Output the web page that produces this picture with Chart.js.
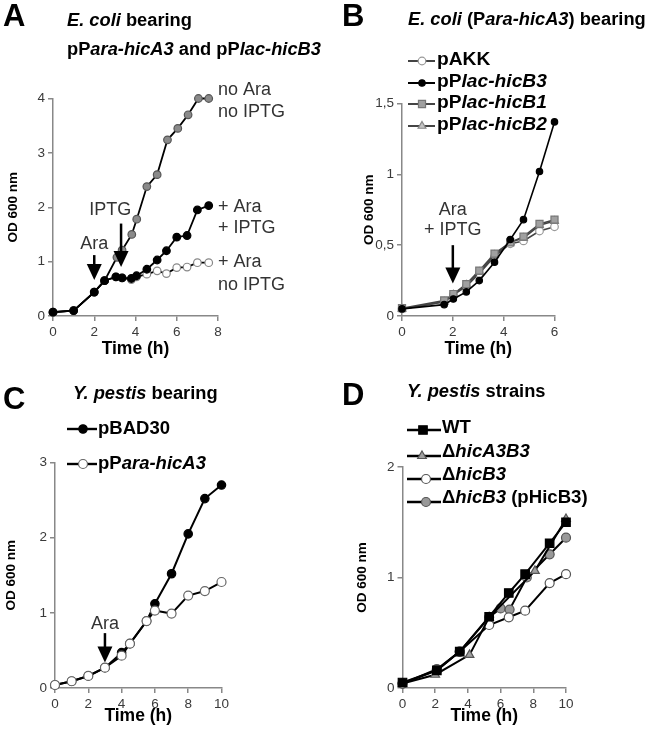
<!DOCTYPE html>
<html>
<head>
<meta charset="utf-8">
<script src="https://cdn.jsdelivr.net/npm/chart.js@4/dist/chart.umd.min.js"></script>
<style>
  body { margin: 0; background: #fff; }
  #fig { position: relative; width: 650px; height: 734px; }
  .panel { position: absolute; width: 325px; height: 367px; }
</style>
</head>
<body>
<div id="fig">
  <div class="panel" style="left:0;top:0"><canvas id="panelA" width="325" height="367"></canvas></div>
  <div class="panel" style="left:325px;top:0"><canvas id="panelB" width="325" height="367"></canvas></div>
  <div class="panel" style="left:0;top:367px"><canvas id="panelC" width="325" height="367"></canvas></div>
  <div class="panel" style="left:325px;top:367px"><canvas id="panelD" width="325" height="367"></canvas></div>
</div>
<script>
const FONT = '"Liberation Sans", Arial, sans-serif';
const W = 325, H = 367;

// (A) E. coli bearing pPara-hicA3 and pPlac-hicB3
const timeA = [0, 1, 2, 2.5, 3.05, 3.35, 3.8, 4.05, 4.55, 5.05, 5.5, 6.0, 6.5, 7.0, 7.55];
const timeA_noAra = [0, 1, 2, 2.5, 3.1, 3.35, 3.82, 4.06, 4.55, 5.05, 5.55, 6.05, 6.55, 7.05, 7.55];
const odA_noAra = [0.07, 0.1, 0.44, 0.65, 1.08, 1.21, 1.5, 1.78, 2.38, 2.6, 3.24, 3.45, 3.7, 4.0, 4.0];
const odA_araIptg = [0.07, 0.1, 0.44, 0.65, 0.72, 0.7, 0.69, 0.74, 0.86, 1.03, 1.2, 1.45, 1.48, 1.95, 2.03];
const odA_ara = [0.07, 0.1, 0.44, 0.65, 0.72, 0.7, 0.67, 0.72, 0.77, 0.83, 0.78, 0.89, 0.9, 0.98, 0.98];

// (B) E. coli (Para-hicA3) bearing
const timeB = [0, 1.66, 2.02, 2.53, 3.04, 3.64, 4.26, 4.78, 5.41, 6.0];
const odB_pAKK = [0.05, 0.1, 0.15, 0.21, 0.3, 0.42, 0.51, 0.53, 0.6, 0.63];
const odB_hicB3 = [0.05, 0.08, 0.12, 0.17, 0.25, 0.38, 0.54, 0.68, 1.02, 1.37];
const odB_hicB1 = [0.055, 0.11, 0.155, 0.225, 0.32, 0.44, 0.52, 0.56, 0.65, 0.68];
const odB_hicB2 = [0.05, 0.1, 0.15, 0.22, 0.31, 0.43, 0.52, 0.55, 0.64, 0.67];
const yTicksB = ['0', '0,5', '1', '1,5'];

// (C) Y. pestis bearing
const timeC = [0, 1, 2, 3, 4, 4.5, 5.5, 6, 7, 8, 9, 10];
const odC_pBAD30 = [0.04, 0.09, 0.16, 0.27, 0.47, 0.59, 0.89, 1.12, 1.52, 2.05, 2.52, 2.7];
const odC_hicA3 = [0.04, 0.09, 0.16, 0.27, 0.43, 0.59, 0.89, 1.03, 0.99, 1.23, 1.29, 1.41];

// (D) Y. pestis strains
const timeD_WT = [0, 2.1, 3.5, 5.3, 6.5, 7.5, 9, 10];
const odD_WT = [0.05, 0.16, 0.33, 0.645, 0.86, 1.03, 1.31, 1.5];
const timeD_A3B3 = [0, 2, 4.1, 5.3, 8.1, 10];
const odD_A3B3 = [0.04, 0.12, 0.3, 0.64, 1.06, 1.53];
const timeD_B3 = [0, 2.1, 3.5, 5.3, 6.5, 7.5, 9, 10];
const odD_B3 = [0.04, 0.16, 0.33, 0.57, 0.64, 0.7, 0.95, 1.03];
const timeD_pHicB3 = [0, 2.1, 3.5, 5.3, 6.0, 6.55, 7.6, 9, 10];
const odD_pHicB3 = [0.04, 0.17, 0.33, 0.64, 0.72, 0.71, 1.0, 1.21, 1.36];

function pts(t, v) { return t.map((x, i) => ({ x: x, y: v[i] })); }

function series(t, v, style) {
  return Object.assign({
    data: pts(t, v),
    showLine: true,
    tension: 0,
    clip: false,
    borderColor: '#000',
    borderWidth: 1.8,
    pointBorderWidth: 1.2
  }, style);
}

// rich text: segs = [[text, italic], ...], all bold
function rich(ctx, segs, x, y, size) {
  ctx.textBaseline = 'middle';
  ctx.textAlign = 'left';
  segs.forEach(s => {
    ctx.font = (s[1] ? 'italic ' : '') + 'bold ' + size + 'px ' + FONT;
    ctx.fillText(s[0], x, y);
    x += ctx.measureText(s[0]).width;
  });
}

function marker(ctx, ds, x, y) {
  const r = ds.pointRadius;
  ctx.beginPath();
  if (ds.pointStyle === 'rect') {
    const s = r * Math.SQRT1_2;
    ctx.rect(x - s, y - s, 2 * s, 2 * s);
  } else if (ds.pointStyle === 'triangle') {
    let a = 0;
    ctx.moveTo(x + Math.sin(a) * r, y - Math.cos(a) * r);
    a += 2 * Math.PI / 3;
    ctx.lineTo(x + Math.sin(a) * r, y - Math.cos(a) * r);
    a += 2 * Math.PI / 3;
    ctx.lineTo(x + Math.sin(a) * r, y - Math.cos(a) * r);
    ctx.closePath();
  } else {
    ctx.arc(x, y, r, 0, Math.PI * 2);
  }
  ctx.fillStyle = ds.pointBackgroundColor;
  ctx.fill();
  ctx.lineWidth = ds.pointBorderWidth;
  ctx.strokeStyle = ds.pointBorderColor;
  ctx.stroke();
}

const decor = {
  id: 'decor',
  afterDraw(chart, args, o) {
    const ctx = chart.ctx, xs = chart.scales.x, ys = chart.scales.y;
    ctx.save();
    ctx.fillStyle = '#000';
    ctx.font = 'bold 31px ' + FONT;
    ctx.textBaseline = 'alphabetic';
    ctx.textAlign = 'left';
    ctx.fillText(o.letter[0], o.letter[1], o.letter[2]);
    o.title.forEach(l => { ctx.fillStyle = '#000'; rich(ctx, l.segs, l.x, l.y, 18.3); });

    (o.legend || []).forEach(e => {
      const ds = chart.data.datasets[e.ds];
      ctx.strokeStyle = ds.borderColor;
      ctx.lineWidth = ds.borderWidth + 0.4;
      ctx.beginPath();
      ctx.moveTo(e.x0, e.ly);
      ctx.lineTo(e.x1, e.ly);
      ctx.stroke();
      marker(ctx, ds, e.mx, e.ly);
      ctx.fillStyle = '#000';
      rich(ctx, e.segs, e.tx, e.ty, e.size);
    });

    ctx.fillStyle = '#333';
    (o.notes || []).forEach(n => {
      ctx.font = '18px ' + FONT;
      ctx.textAlign = 'left';
      ctx.textBaseline = 'middle';
      ctx.fillText(n[0], n[1], n[2]);
    });

    (o.arrows || []).forEach(a => {
      const x = xs.getPixelForValue(a.x);
      const y0 = ys.getPixelForValue(a.y0), y1 = ys.getPixelForValue(a.y1);
      ctx.strokeStyle = '#000';
      ctx.fillStyle = '#000';
      ctx.lineWidth = 2.5;
      ctx.beginPath();
      ctx.moveTo(x, y0);
      ctx.lineTo(x, y1 - 12);
      ctx.stroke();
      ctx.beginPath();
      ctx.moveTo(x - 7.5, y1 - 16);
      ctx.lineTo(x + 7.5, y1 - 16);
      ctx.lineTo(x, y1);
      ctx.closePath();
      ctx.fill();
      ctx.fillStyle = '#333';
      ctx.font = '18px ' + FONT;
      ctx.textAlign = 'center';
      ctx.textBaseline = 'middle';
      a.label.forEach((t, i) => {
        ctx.fillText(t, xs.getPixelForValue(a.lx), ys.getPixelForValue(a.ly[i]));
      });
    });
    ctx.restore();
  }
};

function axes(p) {
  return {
    x: {
      type: 'linear', min: 0, max: p.xMax,
      ticks: { stepSize: 2, color: '#3a3a3a', font: { size: 13.5, family: FONT }, padding: 3, maxRotation: 0 },
      grid: { drawOnChartArea: false, tickLength: 5, color: '#888', lineWidth: 1.5 },
      border: { color: '#888', width: 1.5 },
      title: { display: true, text: 'Time (h)', color: '#000', font: { size: 17.5, weight: 'bold', family: FONT }, padding: { top: 0, bottom: 7 } },
      afterFit: s => { s.height = H - p.area.b; }
    },
    y: {
      type: 'linear', min: 0, max: p.yMax,
      ticks: {
        stepSize: p.yStep, color: '#3a3a3a', font: { size: 13.5, family: FONT }, padding: 3,
        callback: p.yLabels ? (v, i) => p.yLabels[i] : (v => v)
      },
      grid: { drawOnChartArea: false, tickLength: 5, color: '#888', lineWidth: 1.5 },
      border: { color: '#888', width: 1.5 },
      title: { display: true, text: 'OD 600 nm', color: '#000', font: { size: 13.5, weight: 'bold', family: FONT }, padding: { top: p.yTitleX - 8, bottom: 0 } },
      afterFit: s => { s.width = p.area.l; }
    }
  };
}

function makeChart(id, p, datasets, deco) {
  return new Chart(document.getElementById(id), {
    type: 'scatter',
    data: { datasets: datasets },
    options: {
      responsive: false,
      animation: false,
      layout: { padding: { left: 0, top: p.area.t, right: W - p.area.r, bottom: 0 } },
      plugins: { legend: { display: false }, tooltip: { enabled: false }, decor: deco },
      scales: axes(p)
    },
    plugins: [decor]
  });
}

// Panel A
makeChart('panelA', { area: { l: 53, r: 218, t: 98.5, b: 316 }, xMax: 8, yMax: 4, yStep: 1, yTitleX: 13 }, [
  series(timeA, odA_araIptg, { pointStyle: 'circle', pointRadius: 3.8, pointBackgroundColor: '#000', pointBorderColor: '#000' }),
  series(timeA_noAra, odA_noAra, { pointStyle: 'circle', pointRadius: 3.8, pointBackgroundColor: '#8a8a8a', pointBorderColor: '#555' }),
  series(timeA, odA_ara, { pointStyle: 'circle', pointRadius: 3.8, pointBackgroundColor: '#fff', pointBorderColor: '#888' })
], {
  letter: ['A', 3, 26],
  title: [
    { x: 67, y: 21, segs: [['E. coli', 1], [' bearing', 0]] },
    { x: 67, y: 50, segs: [['pP', 0], ['ara-hicA3', 1], [' and pP', 0], ['lac-hicB3', 1]] }
  ],
  notes: [['no Ara', 218, 90], ['no IPTG', 218, 112], ['+ Ara', 218, 207], ['+ IPTG', 218, 228], ['+ Ara', 218, 262], ['no IPTG', 218, 285]],
  arrows: [
    { x: 2, y0: 1.12, y1: 0.66, label: ['Ara'], lx: 2, ly: [1.32] },
    { x: 3.3, y0: 1.7, y1: 0.9, label: ['IPTG'], lx: 2.77, ly: [1.94] }
  ]
});

// Panel B
makeChart('panelB', { area: { l: 77, r: 229.5, t: 103.5, b: 316 }, xMax: 6, yMax: 1.5, yStep: 0.5, yLabels: yTicksB, yTitleX: 44 }, [
  series(timeB, odB_hicB3, { pointStyle: 'circle', pointRadius: 3.2, pointBackgroundColor: '#000', pointBorderColor: '#000', borderWidth: 1.6 }),
  series(timeB, odB_hicB1, { pointStyle: 'rect', pointRadius: 5, pointBackgroundColor: '#a0a0a0', pointBorderColor: '#777', borderColor: '#444', borderWidth: 1.6 }),
  series(timeB, odB_hicB2, { pointStyle: 'triangle', pointRadius: 4.5, pointBackgroundColor: '#c4c4c4', pointBorderColor: '#888', borderColor: '#444', borderWidth: 1.6 }),
  series(timeB, odB_pAKK, { pointStyle: 'circle', pointRadius: 3.8, pointBackgroundColor: '#fff', pointBorderColor: '#999', borderColor: '#444', borderWidth: 1.6 })
], {
  letter: ['B', 17, 26],
  title: [{ x: 83, y: 20, segs: [['E. coli', 1], [' (P', 0], ['ara-hicA3', 1], [') bearing', 0]] }],
  legend: [
    { ds: 3, x0: 83, x1: 110, mx: 97, ly: 61, tx: 112, ty: 60, size: 19.2, segs: [['pAKK', 0]] },
    { ds: 0, x0: 83, x1: 110, mx: 97, ly: 83, tx: 112, ty: 82, size: 19.2, segs: [['pP', 0], ['lac-hicB3', 1]] },
    { ds: 1, x0: 83, x1: 110, mx: 97, ly: 104, tx: 112, ty: 103, size: 19.2, segs: [['pP', 0], ['lac-hicB1', 1]] },
    { ds: 2, x0: 83, x1: 110, mx: 97, ly: 126, tx: 112, ty: 125, size: 19.2, segs: [['pP', 0], ['lac-hicB2', 1]] }
  ],
  arrows: [{ x: 2, y0: 0.5, y1: 0.23, label: ['Ara', '+ IPTG'], lx: 2, ly: [0.746, 0.605] }]
});

// Panel C
makeChart('panelC', { area: { l: 55, r: 221.5, t: 95.5, b: 321 }, xMax: 10, yMax: 3, yStep: 1, yTitleX: 11 }, [
  series(timeC, odC_hicA3, { pointStyle: 'circle', pointRadius: 4.5, pointBackgroundColor: '#fff', pointBorderColor: '#666', borderWidth: 2 }),
  series(timeC, odC_pBAD30, { pointStyle: 'circle', pointRadius: 4.2, pointBackgroundColor: '#000', pointBorderColor: '#000', borderWidth: 2 })
], {
  letter: ['C', 3, 42],
  title: [{ x: 73, y: 27, segs: [['Y. pestis', 1], [' bearing', 0]] }],
  legend: [
    { ds: 1, x0: 67, x1: 97, mx: 83, ly: 62, tx: 98, ty: 62, size: 18.5, segs: [['pBAD30', 0]] },
    { ds: 0, x0: 67, x1: 97, mx: 83, ly: 97, tx: 98, ty: 97, size: 18.5, segs: [['pP', 0], ['ara-hicA3', 1]] }
  ],
  arrows: [{ x: 3, y0: 0.73, y1: 0.34, label: ['Ara'], lx: 3, ly: [0.85] }]
});

// Panel D
makeChart('panelD', { area: { l: 77.5, r: 241, t: 100, b: 321 }, xMax: 10, yMax: 2, yStep: 1, yTitleX: 37 }, [
  series(timeD_WT, odD_WT, { pointStyle: 'rect', pointRadius: 6, pointBackgroundColor: '#000', pointBorderColor: '#000', borderWidth: 2 }),
  series(timeD_A3B3, odD_A3B3, { pointStyle: 'triangle', pointRadius: 5, pointBackgroundColor: '#a0a0a0', pointBorderColor: '#555', borderWidth: 2 }),
  series(timeD_B3, odD_B3, { pointStyle: 'circle', pointRadius: 4.5, pointBackgroundColor: '#fff', pointBorderColor: '#555', borderWidth: 2 }),
  series(timeD_pHicB3, odD_pHicB3, { pointStyle: 'circle', pointRadius: 4.5, pointBackgroundColor: '#999', pointBorderColor: '#555', borderWidth: 2 })
], {
  letter: ['D', 17, 38],
  title: [{ x: 82, y: 25, segs: [['Y. pestis', 1], [' strains', 0]] }],
  legend: [
    { ds: 0, x0: 82, x1: 116, mx: 98, ly: 63, tx: 117, ty: 61, size: 18.6, segs: [['WT', 0]] },
    { ds: 1, x0: 82, x1: 116, mx: 97, ly: 89, tx: 117, ty: 85, size: 18.6, segs: [['\u0394', 0], ['hicA3B3', 1]] },
    { ds: 2, x0: 82, x1: 116, mx: 101, ly: 112, tx: 117, ty: 108, size: 18.6, segs: [['\u0394', 0], ['hicB3', 1]] },
    { ds: 3, x0: 82, x1: 116, mx: 101, ly: 135, tx: 117, ty: 131, size: 18.6, segs: [['\u0394', 0], ['hicB3', 1], [' (pHicB3)', 0]] }
  ]
});
</script>
</body>
</html>
